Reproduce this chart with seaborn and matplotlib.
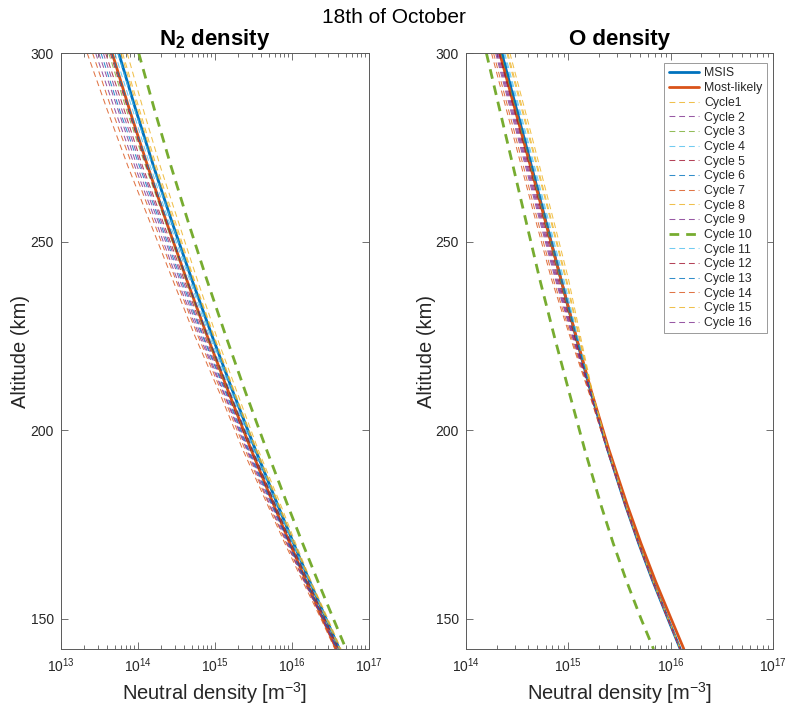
import numpy as np
import pandas as pd
import matplotlib
matplotlib.use("Agg")
import matplotlib.pyplot as plt
from matplotlib.ticker import LogLocator, NullFormatter
import seaborn as sns

# Altitude grid (km) on which the profiles are tabulated
altitude = [300, 285, 270, 255, 240, 225, 210, 195, 180, 170, 160, 150, 142]

# ---- N2 density profiles, log10(n / m^-3) ----
n2_msis = [13.750, 13.971, 14.203, 14.446, 14.700, 14.964, 15.239, 15.524, 15.821, 16.024, 16.232, 16.446, 16.619]
n2_most_likely = [13.665, 13.890, 14.127, 14.374, 14.632, 14.900, 15.180, 15.469, 15.770, 15.976, 16.187, 16.404, 16.579]
n2_cycles = {
    "Cycle1":   [13.86, 14.07, 14.29, 14.53, 14.77, 15.02, 15.29, 15.56, 15.86, 16.05, 16.25, 16.47, 16.64],
    "Cycle 2":  [13.55, 13.79, 14.04, 14.31, 14.58, 14.85, 15.15, 15.44, 15.76, 15.97, 16.19, 16.41, 16.59],
    "Cycle 3":  [13.62, 13.85, 14.10, 14.36, 14.62, 14.89, 15.18, 15.47, 15.78, 15.99, 16.20, 16.43, 16.60],
    "Cycle 4":  [13.70, 13.93, 14.16, 14.41, 14.67, 14.93, 15.22, 15.50, 15.80, 16.01, 16.22, 16.44, 16.61],
    "Cycle 5":  [13.58, 13.82, 14.06, 14.33, 14.60, 14.87, 15.16, 15.46, 15.77, 15.97, 16.19, 16.42, 16.60],
    "Cycle 6":  [13.66, 13.89, 14.13, 14.39, 14.64, 14.91, 15.20, 15.49, 15.79, 16.00, 16.21, 16.43, 16.61],
    "Cycle 7":  [13.34, 13.60, 13.87, 14.16, 14.45, 14.74, 15.06, 15.36, 15.69, 15.91, 16.14, 16.38, 16.56],
    "Cycle 8":  [13.80, 14.02, 14.24, 14.49, 14.73, 14.99, 15.26, 15.54, 15.84, 16.03, 16.24, 16.46, 16.63],
    "Cycle 9":  [13.49, 13.74, 13.99, 14.27, 14.54, 14.82, 15.12, 15.42, 15.74, 15.95, 16.17, 16.40, 16.58],
    "Cycle 10": [14.010, 14.215, 14.430, 14.657, 14.894, 15.142, 15.400, 15.669, 15.949, 16.141, 16.338, 16.541, 16.705],
    "Cycle 11": [13.74, 13.96, 14.19, 14.44, 14.69, 14.95, 15.24, 15.52, 15.82, 16.02, 16.23, 16.45, 16.62],
    "Cycle 12": [13.64, 13.87, 14.11, 14.37, 14.63, 14.90, 15.19, 15.48, 15.79, 15.99, 16.21, 16.43, 16.61],
    "Cycle 13": [13.52, 13.76, 14.02, 14.29, 14.56, 14.84, 15.14, 15.43, 15.75, 15.96, 16.18, 16.41, 16.59],
    "Cycle 14": [13.41, 13.66, 13.93, 14.21, 14.49, 14.78, 15.09, 15.39, 15.71, 15.93, 16.16, 16.39, 16.57],
    "Cycle 15": [13.78, 14.00, 14.22, 14.47, 14.72, 14.98, 15.25, 15.53, 15.83, 16.03, 16.24, 16.45, 16.62],
    "Cycle 16": [13.45, 13.70, 13.96, 14.24, 14.51, 14.80, 15.11, 15.41, 15.72, 15.94, 16.16, 16.40, 16.58],
}

# ---- O density profiles, log10(n / m^-3) ----
o_msis = [14.350, 14.496, 14.641, 14.785, 14.929, 15.073, 15.222, 15.384, 15.561, 15.689, 15.827, 15.975, 16.095]
o_most_likely = [14.330, 14.481, 14.631, 14.780, 14.929, 15.076, 15.230, 15.396, 15.579, 15.711, 15.853, 16.006, 16.130]
o_cycles = {
    "Cycle1":   [14.430, 14.576, 14.720, 14.863, 15.003, 15.119, 15.238, 15.390, 15.565, 15.692, 15.829, 15.977, 16.097],
    "Cycle 2":  [14.300, 14.446, 14.592, 14.737, 14.883, 15.044, 15.212, 15.380, 15.559, 15.687, 15.826, 15.974, 16.094],
    "Cycle 3":  [14.340, 14.486, 14.631, 14.775, 14.920, 15.067, 15.220, 15.383, 15.561, 15.689, 15.827, 15.975, 16.095],
    "Cycle 4":  [14.370, 14.516, 14.661, 14.804, 14.947, 15.085, 15.226, 15.386, 15.562, 15.690, 15.828, 15.975, 16.095],
    "Cycle 5":  [14.320, 14.466, 14.611, 14.756, 14.901, 15.056, 15.216, 15.382, 15.560, 15.688, 15.826, 15.974, 16.094],
    "Cycle 6":  [14.350, 14.496, 14.641, 14.785, 14.929, 15.073, 15.222, 15.384, 15.561, 15.689, 15.827, 15.975, 16.095],
    "Cycle 7":  [14.250, 14.396, 14.542, 14.688, 14.837, 15.015, 15.202, 15.376, 15.556, 15.685, 15.824, 15.973, 16.093],
    "Cycle 8":  [14.410, 14.556, 14.700, 14.843, 14.984, 15.108, 15.234, 15.389, 15.564, 15.691, 15.829, 15.976, 16.096],
    "Cycle 9":  [14.290, 14.436, 14.582, 14.727, 14.874, 15.038, 15.210, 15.379, 15.558, 15.687, 15.825, 15.974, 16.094],
    "Cycle 10": [14.200, 14.330, 14.461, 14.591, 14.722, 14.863, 15.010, 15.160, 15.322, 15.440, 15.570, 15.712, 15.834],
    "Cycle 11": [14.380, 14.526, 14.671, 14.814, 14.957, 15.090, 15.228, 15.386, 15.563, 15.690, 15.828, 15.976, 16.096],
    "Cycle 12": [14.330, 14.476, 14.621, 14.766, 14.911, 15.061, 15.218, 15.382, 15.560, 15.688, 15.826, 15.975, 16.095],
    "Cycle 13": [14.360, 14.506, 14.651, 14.795, 14.938, 15.079, 15.224, 15.385, 15.562, 15.689, 15.827, 15.975, 16.095],
    "Cycle 14": [14.270, 14.416, 14.562, 14.707, 14.855, 15.027, 15.206, 15.378, 15.557, 15.686, 15.825, 15.973, 16.093],
    "Cycle 15": [14.400, 14.546, 14.691, 14.834, 14.975, 15.102, 15.232, 15.388, 15.564, 15.691, 15.829, 15.976, 16.096],
    "Cycle 16": [14.310, 14.456, 14.601, 14.746, 14.892, 15.050, 15.214, 15.381, 15.559, 15.687, 15.826, 15.974, 16.094],
}

# MATLAB-like colour order
BLUE, ORANGE, YELLOW, PURPLE = "#0072BD", "#D95319", "#EDB120", "#7E2F8E"
GREEN, LIGHTBLUE, DARKRED = "#77AC30", "#4DBEEE", "#A2142F"
cycle_colors = [YELLOW, PURPLE, GREEN, LIGHTBLUE, DARKRED, BLUE, ORANGE,
                YELLOW, PURPLE, GREEN, LIGHTBLUE, DARKRED, BLUE, ORANGE,
                YELLOW, PURPLE]

sns.set_theme(style="white")
plt.rcParams["font.family"] = ["Liberation Sans", "DejaVu Sans"]
plt.rcParams["mathtext.fontset"] = "custom"
plt.rcParams["mathtext.rm"] = "Liberation Sans"
plt.rcParams["mathtext.it"] = "Liberation Sans:italic"
plt.rcParams["mathtext.bf"] = "Liberation Sans:bold"
plt.rcParams["lines.scale_dashes"] = False

AX_COLOR = "#5a5a5a"
TXT_COLOR = "#262626"

fig = plt.figure(figsize=(7.87, 7.09), dpi=100)
ax_n2 = fig.add_axes([0.0775, 0.0846, 0.391, 0.8406])
ax_o = fig.add_axes([0.592, 0.0846, 0.390, 0.8406])


def draw_profile(ax, logvals, color, lw, dashes=None, label=None, alpha=1.0):
    df = pd.DataFrame({"density": np.power(10.0, logvals), "alt": altitude})
    sns.lineplot(data=df, x="density", y="alt", sort=False, estimator=None,
                 ax=ax, label=label, legend=False,
                 color=color, linewidth=lw, alpha=alpha)
    line = ax.get_lines()[-1]
    line.set_solid_joinstyle("round")
    line.set_dash_joinstyle("round")
    if dashes is not None:
        line.set_dashes(dashes)
    return line


def draw_panel(ax, msis, likely, cycles):
    handles = [draw_profile(ax, msis, BLUE, 2.0, label="MSIS"),
               draw_profile(ax, likely, ORANGE, 2.0, label="Most-likely")]
    for (name, vals), col in zip(cycles.items(), cycle_colors):
        if name == "Cycle 10":
            h = draw_profile(ax, vals, col, 2.0, dashes=(7, 5), label=name)
        else:
            h = draw_profile(ax, vals, col, 0.75, dashes=(4.2, 2.8),
                             label=name, alpha=0.8)
        handles.append(h)
    return handles


draw_panel(ax_n2, n2_msis, n2_most_likely, n2_cycles)
handles = draw_panel(ax_o, o_msis, o_most_likely, o_cycles)

for ax, xlim in ((ax_n2, (1e13, 1e17)), (ax_o, (1e14, 1e17))):
    ax.set_xscale("log")
    ax.set_xlim(*xlim)
    ax.set_ylim(142, 300)
    ax.set_yticks([150, 200, 250, 300])
    ax.xaxis.set_major_locator(LogLocator(base=10, numticks=10))
    ax.xaxis.set_minor_locator(LogLocator(base=10, subs=np.arange(2, 10),
                                          numticks=100))
    ax.xaxis.set_minor_formatter(NullFormatter())
    ax.tick_params(which="both", direction="in", top=True, right=True,
                   bottom=True, left=True,
                   colors=AX_COLOR, labelcolor=TXT_COLOR, labelsize=10,
                   width=0.6)
    ax.tick_params(which="major", length=5, pad=5)
    ax.tick_params(which="minor", length=3)
    for sp in ax.spines.values():
        sp.set_color(AX_COLOR)
        sp.set_linewidth(0.7)
    ax.set_xlabel("Neutral density [m$^{-3}$]", fontsize=14.5,
                  color=TXT_COLOR)
    ax.set_ylabel("Altitude (km)", fontsize=14.5, color=TXT_COLOR)
    ax.xaxis.set_label_coords(0.5, -0.052)

ax_n2.yaxis.set_label_coords(-0.100, 0.5)
ax_o.yaxis.set_label_coords(-0.096, 0.5)

ax_n2.set_title(r"$\mathbf{N_2}$ density", fontsize=16, fontweight="bold",
                color="black", pad=6)
ax_o.set_title("O density", fontsize=16, fontweight="bold", color="black",
               pad=6)

fig.text(0.5, 0.975, "18th of October", ha="center", va="center",
         fontsize=15, color="black")

leg = ax_o.legend(handles=handles, loc="upper right",
                  bbox_to_anchor=(0.980, 0.983), borderaxespad=0.0,
                  fontsize=8.8, frameon=True, fancybox=False, framealpha=1,
                  edgecolor="#8a8a8a", labelspacing=0.22, handlelength=2.5,
                  handletextpad=0.4, borderpad=0.35)
leg.get_frame().set_linewidth(0.6)

fig.savefig("out.png", dpi=100, facecolor="white")
